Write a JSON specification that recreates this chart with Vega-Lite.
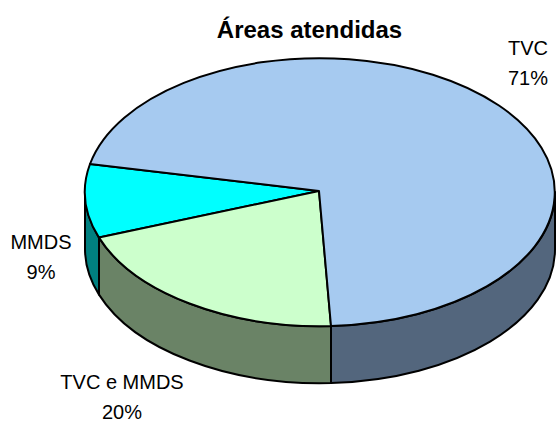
{
  "$schema": "https://vega.github.io/schema/vega-lite/v6.json",
  "width": 557,
  "height": 424,
  "padding": 0,
  "autosize": {"type": "none"},
  "background": "white",
  "view": {"stroke": null},
  "title": {
    "text": "Áreas atendidas",
    "font": "Liberation Sans",
    "fontSize": 24,
    "fontWeight": "bold",
    "color": "black",
    "anchor": "middle",
    "frame": "group",
    "orient": "top",
    "offset": -43,
    "dx": 31
  },
  "datasets": {
    "faces": [
      {"part": "TVC lateral", "area": "TVC", "percent": 71},
      {"part": "TVC e MMDS lateral", "area": "TVC e MMDS", "percent": 20},
      {"part": "MMDS lateral", "area": "MMDS", "percent": 9},
      {"part": "TVC topo", "area": "TVC", "percent": 71},
      {"part": "TVC e MMDS topo", "area": "TVC e MMDS", "percent": 20},
      {"part": "MMDS topo", "area": "MMDS", "percent": 9}
    ],
    "labels": [
      {"label": "TVC\n71%", "percent": 71},
      {"label": "TVC e MMDS\n20%", "percent": 20},
      {"label": "MMDS\n9%", "percent": 9}
    ]
  },
  "layer": [
    {
      "data": {"name": "faces"},
      "mark": {"type": "point", "filled": true, "opacity": 1, "fillOpacity": 1, "stroke": "black", "strokeWidth": 2, "size": 4, "strokeJoin": "round"},
      "encoding": {
        "shape": {
          "field": "part",
          "type": "nominal",
          "legend": null,
          "scale": {
            "domain": ["TVC lateral", "TVC e MMDS lateral", "MMDS lateral", "TVC topo", "TVC e MMDS topo", "MMDS topo"],
            "range": [
              "M276.5 -20 L276.5 37 A235 134 0 0 1 52.5 171 L52.5 114 A235 134 0 0 0 276.5 -20 Z",
              "M52.5 114 L52.5 171 A235 134 0 0 1 -179.5 82.6 L-179.5 25.6 A235 134 0 0 0 52.5 114 Z",
              "M-179.5 25.6 L-179.5 82.6 A235 134 0 0 1 -193.5 37 L-193.5 -20 A235 134 0 0 0 -179.5 25.6 Z",
              "M40.5 -21 L-188.5 -48 A235 134 0 1 1 52.5 114 Z",
              "M40.5 -21 L52.5 114 A235 134 0 0 1 -179.5 25.6 Z",
              "M40.5 -21 L-179.5 25.6 A235 134 0 0 1 -188.5 -48 Z"
            ]
          }
        },
        "fill": {
          "field": "part",
          "type": "nominal",
          "legend": null,
          "scale": {
            "domain": ["TVC lateral", "TVC e MMDS lateral", "MMDS lateral", "TVC topo", "TVC e MMDS topo", "MMDS topo"],
            "range": ["#53667D", "#6A8366", "#008080", "#A6CAF0", "#CCFFCC", "#00FFFF"]
          }
        },
        "order": {"field": "part", "type": "nominal", "sort": "ascending"}
      }
    },
    {
      "data": {"name": "labels"},
      "mark": {"type": "text", "font": "Liberation Sans", "fontSize": 20, "color": "black", "align": "center", "baseline": "middle", "lineBreak": "\n", "lineHeight": 30},
      "encoding": {
        "text": {"field": "label", "type": "nominal"},
        "x": {"field": "percent", "type": "quantitative", "axis": null, "scale": {"domain": [9, 20, 71], "range": [41, 122, 528]}},
        "y": {"field": "percent", "type": "quantitative", "axis": null, "scale": {"domain": [9, 20, 71], "range": [243, 383, 49]}}
      }
    }
  ],
  "resolve": {"scale": {"x": "independent", "y": "independent"}}
}
